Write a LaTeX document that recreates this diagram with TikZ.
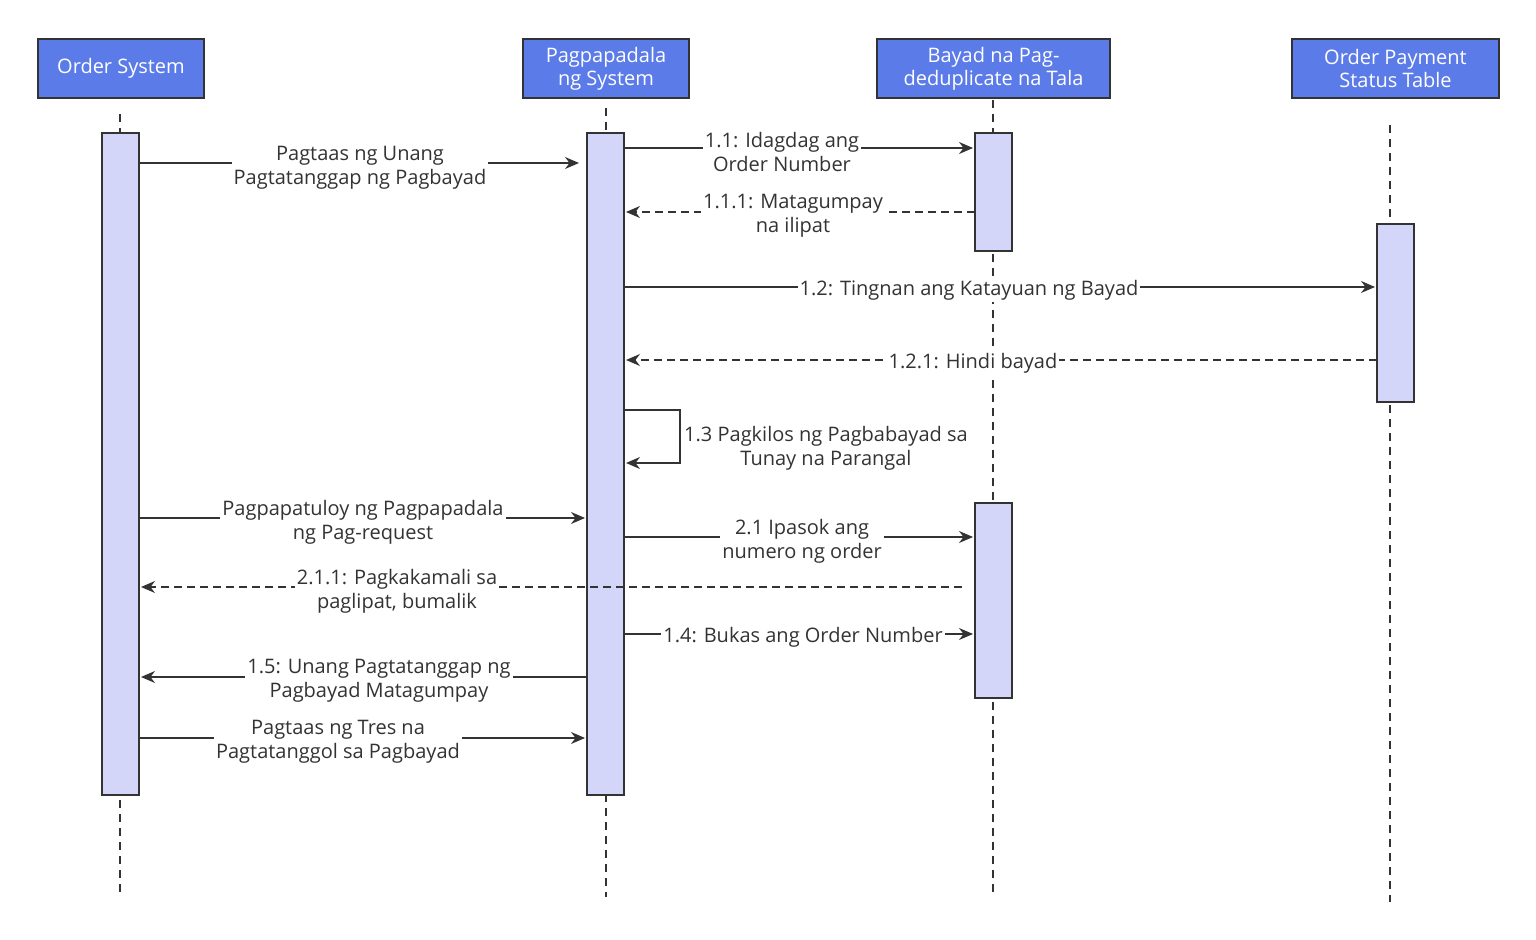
\documentclass[tikz,border=0pt]{standalone}
\usepackage{fontspec}
\setmainfont{Open Sans}
\usetikzlibrary{arrows.meta}
\definecolor{hdr}{HTML}{5B7BE8}
\definecolor{act}{HTML}{D3D6F8}
\definecolor{ln}{HTML}{333333}
\begin{document}
\begin{tikzpicture}[x=0.5pt,y=-0.5pt,
  hdr/.style={draw=ln,line width=0.9pt,fill=hdr,text=white,align=center,font=\fontsize{10}{11.5}\selectfont,inner sep=0pt},
  act/.style={draw=ln,line width=0.9pt,fill=act},
  life/.style={draw=ln,line width=0.8pt,dash pattern=on 4pt off 3pt},
  msg/.style={draw=ln,line width=0.7pt,-{Stealth[length=7pt,width=6pt]}},
  ret/.style={msg,dash pattern=on 4pt off 2.5pt},
  lab/.style={fill=white,inner sep=1pt,align=center,text=ln,font=\fontsize{10}{12}\selectfont}]
\useasboundingbox (0,0) rectangle (1536,940);
% lifelines
\draw[life] (120,114) -- (120,897);
\draw[life] (606,108) -- (606,897);
\draw[life] (993,100) -- (993,892);
\draw[life] (1390,125) -- (1390,902);
% headers
\node[hdr,minimum width=83pt,minimum height=29.5pt] (h1) at (121,68.5) {Order System};
\node[hdr,minimum width=83pt,minimum height=29.5pt] (h2) at (606,68.5) {Pagpapadala\\ng System};
\node[hdr,minimum width=116.5pt,minimum height=29.5pt] (h3) at (993.5,68.5) {Bayad na Pag-\\deduplicate na Tala};
\node[hdr,minimum width=103.5pt,minimum height=29.5pt] (h4) at (1395.5,68.5) {Order Payment\\Status Table};
% activations
\draw[act] (102,133) rectangle (139,795);
\draw[act] (587,133) rectangle (624,795);
\draw[act] (975,133) rectangle (1012,251);
\draw[act] (975,503) rectangle (1012,698);
\draw[act] (1377,224) rectangle (1414,402);
% coordinates
\coordinate (a1) at (139,163); \coordinate (b1) at (579,163);
\coordinate (a2) at (624,148); \coordinate (b2) at (973,148);
\coordinate (a3) at (975,212); \coordinate (b3) at (626,212);
\coordinate (a4) at (624,287); \coordinate (b4) at (1375,287);
\coordinate (a5) at (1377,360); \coordinate (b5) at (626,360);
\coordinate (a6) at (624,410); \coordinate (b6) at (626,463);
\coordinate (a7) at (139,518); \coordinate (b7) at (585,518);
\coordinate (a8) at (624,537); \coordinate (b8) at (973,537);
\coordinate (a9) at (962,587); \coordinate (b9) at (141,587);
\coordinate (a10) at (624,634); \coordinate (b10) at (973,634);
\coordinate (a11) at (587,677); \coordinate (b11) at (141,677);
\coordinate (a12) at (139,738); \coordinate (b12) at (585,738);
% messages
\draw[msg] (a1) -- (b1);
\node[lab] (l1) at (360,168) {Pagtaas ng Unang\\Pagtatanggap ng Pagbayad};
\draw[msg] (a2) -- (b2);
\node[lab] (l2) at (782,152) {1.1: Idagdag ang\\Order Number};
\draw[ret] (a3) -- (b3);
\node[lab] (l3) at (793,216) {1.1.1: Matagumpay\\na ilipat};
\draw[msg] (a4) -- (b4);
\node[lab] (l4) at (969,290) {1.2: Tingnan ang Katayuan ng Bayad};
\draw[ret] (a5) -- (b5);
\node[lab] (l5) at (973,363) {1.2.1: Hindi bayad};
\draw[msg] (a6) -- (680,410) -- (680,463) -- (b6);
\node[lab,fill=none] (l6) at (826,448) {1.3 Pagkilos ng Pagbabayad sa\\Tunay na Parangal};
\draw[msg] (a7) -- (b7);
\node[lab] (l7) at (363,522) {Pagpapatuloy ng Pagpapadala\\ng Pag-request};
\draw[msg] (a8) -- (b8);
\node[lab] (l8) at (802,541) {2.1 Ipasok ang\\numero ng order};
\draw[ret] (a9) -- (b9);
\node[lab] (l9) at (397,591) {2.1.1: Pagkakamali sa\\paglipat, bumalik};
\draw[msg] (a10) -- (b10);
\node[lab] (l10) at (803,637) {1.4: Bukas ang Order Number};
\draw[msg] (a11) -- (b11);
\node[lab] (l11) at (379,681) {1.5: Unang Pagtatanggap ng\\Pagbayad Matagumpay};
\draw[msg] (a12) -- (b12);
\node[lab] (l12) at (338,742) {Pagtaas ng Tres na\\Pagtatanggol sa Pagbayad};
\end{tikzpicture}
\end{document}
